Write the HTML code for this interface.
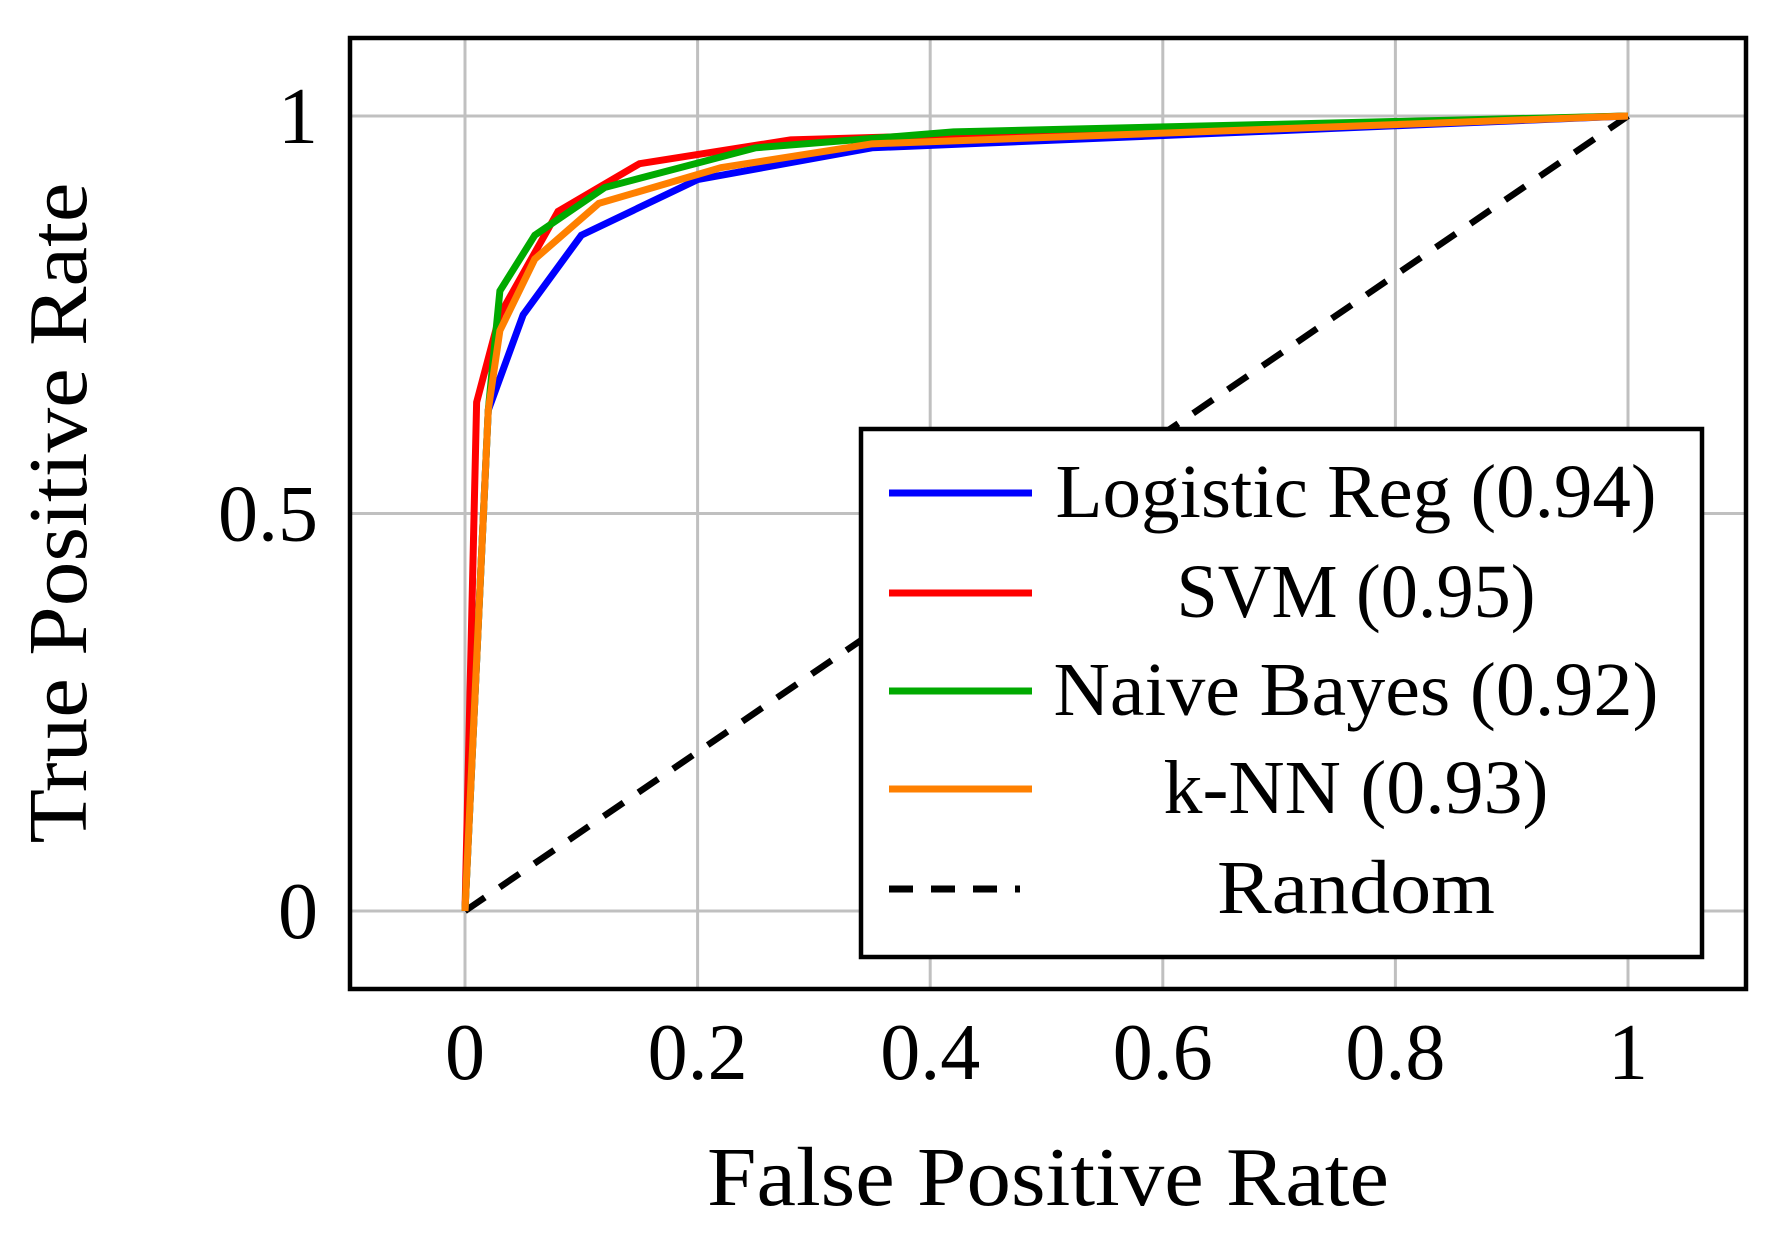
<!DOCTYPE html>
<html><head><meta charset="utf-8"><style>
html,body{margin:0;padding:0;background:#fff}
svg{display:block;font-family:"Liberation Serif",serif}
</style></head><body>
<svg id="chart" width="1787" height="1238" viewBox="0 0 1787 1238" xmlns="http://www.w3.org/2000/svg">
<g id="grid"></g>
<g id="curves"></g>
<rect x="350" y="38" width="1396" height="951" fill="none" stroke="#000" stroke-width="4.5"/>
<g id="ticks" font-size="80"></g>
<text x="1048" y="1205" font-size="84" text-anchor="middle" textLength="682" lengthAdjust="spacingAndGlyphs">False Positive Rate</text>
<text transform="translate(86,513) rotate(-90)" font-size="84" text-anchor="middle" textLength="661" lengthAdjust="spacingAndGlyphs">True Positive Rate</text>
<g id="legend">
<rect x="861" y="429" width="841" height="528" fill="#fff" stroke="#000" stroke-width="4.5"/>
</g>
</svg>
<script>
const xTicks=[0,0.2,0.4,0.6,0.8,1];
const yTicks=[0,0.5,1];
const xTickLabels=["0","0.2","0.4","0.6","0.8","1"];
const yTickLabels=["0","0.5","1"];
const seriesNames=["Logistic Reg (0.94)","SVM (0.95)","Naive Bayes (0.92)","k-NN (0.93)"];
const seriesColors=["#0000ff","#ff0000","#00aa00","#ff8000"];
const lrX=[0,0.02,0.05,0.1,0.2,0.35,1];
const lrY=[0,0.63,0.75,0.85,0.92,0.96,1];
const svmX=[0,0.01,0.03,0.08,0.15,0.28,1];
const svmY=[0,0.64,0.75,0.88,0.94,0.97,1];
const nbX=[0,0.02,0.03,0.06,0.12,0.25,0.42,1];
const nbY=[0,0.63,0.78,0.85,0.91,0.96,0.98,1];
const knnX=[0,0.02,0.03,0.06,0.115,0.22,0.35,1];
const knnY=[0,0.63,0.73,0.82,0.89,0.935,0.965,1];
const randX=[0,1];
const randY=[0,1];

const NS="http://www.w3.org/2000/svg";
const sx=v=>465+v*(1628-465);
const sy=v=>911-v*(911-116);
function mk(tag,attrs,parent){const e=document.createElementNS(NS,tag);for(const k in attrs)e.setAttribute(k,attrs[k]);parent.appendChild(e);return e;}
const grid=document.getElementById('grid'),ticks=document.getElementById('ticks'),curves=document.getElementById('curves'),legend=document.getElementById('legend');
xTicks.forEach((t,i)=>{
  const l=mk('line',{x1:sx(t),x2:sx(t),y1:38,y2:989,stroke:'#c0c0c0','stroke-width':3},grid);
  
  
  const tx=mk('text',{x:sx(t),y:1079,'text-anchor':'middle'},ticks);
  tx.textContent=xTickLabels[i];
  
  
});
yTicks.forEach((t,i)=>{
  const l=mk('line',{x1:350,x2:1746,y1:sy(t),y2:sy(t),stroke:'#c0c0c0','stroke-width':3},grid);
  
  
  const tx=mk('text',{x:318,y:sy(t)+27,'text-anchor':'end'},ticks);
  tx.textContent=yTickLabels[i];
  
  
});
const r=mk('polyline',{points:randX.map((x,i)=>sx(x)+','+sy(randY[i])).join(' '),fill:'none',stroke:'#000','stroke-width':6.5,'stroke-dasharray':'24 18'},curves);


const allX=[lrX,svmX,nbX,knnX],allY=[lrY,svmY,nbY,knnY];
const names=['logistic-reg-curve','svm-curve','naive-bayes-curve','knn-curve'];
allX.forEach((xs,k)=>{
  const p=mk('polyline',{points:xs.map((x,i)=>sx(x)+','+sy(allY[k][i])).join(' '),fill:'none',stroke:seriesColors[k],'stroke-width':7,'stroke-linejoin':'miter'},curves);
  
  
});
const rowY=[493,593,691,789,889];
const labels=seriesNames.concat(['Random']);
const lens=[601,359,605,385,278];
labels.forEach((lab,i)=>{
  const l=mk('line',{x1:889,x2:1032,y1:rowY[i],y2:rowY[i],stroke:i<4?seriesColors[i]:'#000','stroke-width':7},legend);
  if(i==4){l.setAttribute('stroke-dasharray','24 18');l.setAttribute('x2',1020);}
  
  
  const t=mk('text',{x:1356,y:rowY[i]+24,'text-anchor':'middle','font-size':76,textLength:lens[i],lengthAdjust:'spacingAndGlyphs'},legend);
  t.textContent=lab;
  
  
});
</script>
</body></html>
